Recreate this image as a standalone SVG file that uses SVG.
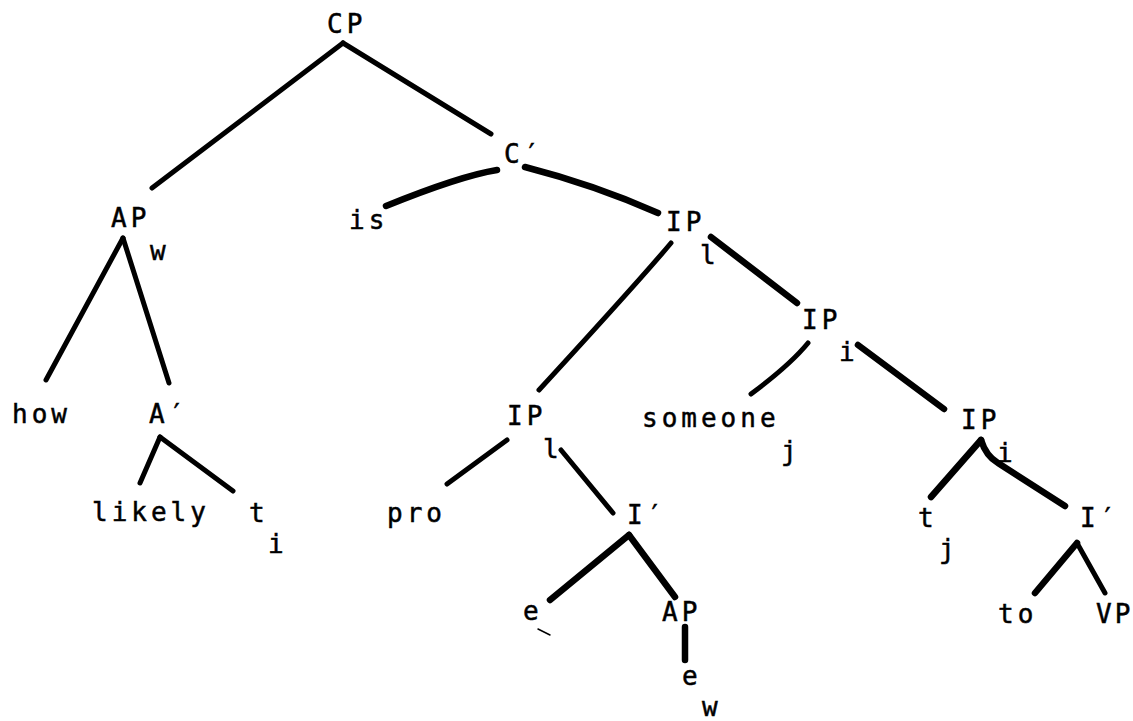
<svg xmlns="http://www.w3.org/2000/svg" width="1133" height="721" viewBox="0 0 1133 721">
<style>
text { font-family: "DejaVu Sans Mono", "Liberation Mono", monospace; font-size: 26px; letter-spacing: 4px; fill: #000; stroke: #000; stroke-width: 0.5; }
.e { fill: none; stroke: #000; stroke-width: 5; stroke-linecap: round; stroke-linejoin: round; }
.t { stroke-width: 6.5; }
.thin { stroke-width: 1.5; }
</style>
<rect width="1133" height="721" fill="#fff"/>
<g id="connectors">
<path class="e" d="M343 43 L152 188"/>
<path class="e" d="M343 43 L491 134"/>
<path class="e" d="M123 238 L46 380"/>
<path class="e" d="M123 238 L169 383"/>
<path class="e t" d="M497 170 Q460 176 386 206"/>
<path class="e t" d="M525 167 Q595 185 658 213"/>
<path class="e" d="M671 243 Q640 280 539 390"/>
<path class="e t" d="M711 237 L797 303"/>
<path class="e" d="M808 343 Q790 365 751 394"/>
<path class="e t" d="M858 345 L944 409"/>
<path class="e" d="M507 440 L447 484"/>
<path class="e" d="M561 450 L613 513"/>
<path class="e t" d="M629 535 L550 600"/>
<path class="e t" d="M629 535 L675 597"/>
<path class="e t" d="M685 627 L685 660"/>
<path class="e" d="M160 437 L140 483"/>
<path class="e" d="M160 437 L233 491"/>
<path class="e t" d="M981 440 L931 497"/>
<path class="e t" d="M981 440 Q986 456 998 463 L1065 506"/>
<path class="e t" d="M1077 543 L1035 593"/>
<path class="e" d="M1077 543 L1105 593"/>
<path class="e thin" d="M538 629 L550 635"/>
</g>
<g id="n-cp"><text x="327" y="33">CP</text></g>
<g id="n-cbar"><text x="504" y="163">C′</text></g>
<g id="n-ap"><text x="111" y="227">AP</text><text x="150" y="260">w</text></g>
<g id="n-is"><text x="349" y="229">is</text></g>
<g id="n-ip1"><text x="666" y="231">IP</text><text x="700" y="264">l</text></g>
<g id="n-how"><text x="12" y="423">how</text></g>
<g id="n-abar"><text x="149" y="423">A′</text></g>
<g id="n-likely"><text x="92" y="521">likely</text></g>
<g id="n-ti"><text x="249" y="522">t</text><text x="268" y="553">i</text></g>
<g id="n-ip2"><text x="507" y="425">IP</text><text x="543" y="458">l</text></g>
<g id="n-pro"><text x="387" y="522">pro</text></g>
<g id="n-ibar1"><text x="627" y="524">I′</text></g>
<g id="n-e1"><text x="523" y="620">e</text></g>
<g id="n-ap2"><text x="662" y="621">AP</text></g>
<g id="n-ew"><text x="682" y="685">e</text><text x="702" y="716" style="letter-spacing:0">w</text></g>
<g id="n-ip3"><text x="802" y="329">IP</text><text x="839" y="361">i</text></g>
<g id="n-someone"><text x="642" y="427">someone</text><text x="781" y="460">j</text></g>
<g id="n-ip4"><text x="961" y="429">IP</text><text x="997" y="462">i</text></g>
<g id="n-tj"><text x="918" y="527">t</text><text x="939" y="558">j</text></g>
<g id="n-ibar2"><text x="1080" y="527">I′</text></g>
<g id="n-to"><text x="998" y="623">to</text></g>
<g id="n-vp"><text x="1096" y="623" style="letter-spacing:3px">VP</text></g>
</svg>
